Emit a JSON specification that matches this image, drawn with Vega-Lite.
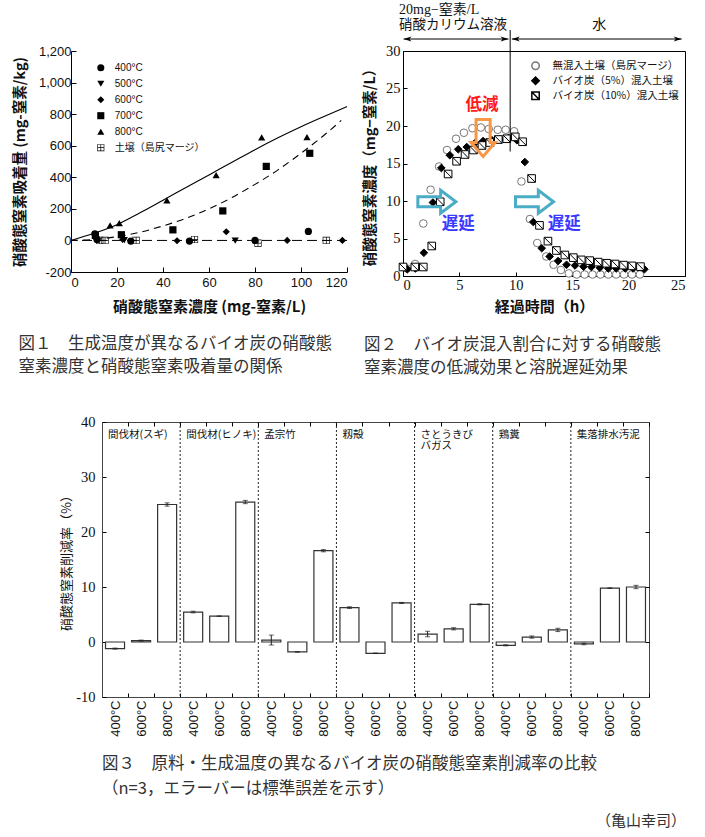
{
  "$schema": "https://vega.github.io/schema/vega-lite/v6.json",
  "background": "white",
  "padding": {"left": 11, "top": 2, "right": 0, "bottom": 0},
  "config": {
    "font": "Noto Sans CJK JP",
    "view": {"stroke": null},
    "axis": {"grid": false, "domainColor": "#000", "tickColor": "#000", "labelColor": "#111", "titleColor": "#111", "titleFont": "Noto Sans CJK JP"}
  },
  "title": {"text": "（亀山幸司）", "orient": "bottom", "anchor": "end", "offset": 16, "fontSize": 15, "fontWeight": "normal", "color": "#333", "font": "Noto Sans CJK JP"},
  "spacing": 36,
  "resolve": {"scale": {"shape": "independent", "fill": "independent", "stroke": "independent"}, "legend": {"shape": "independent", "fill": "independent", "stroke": "independent"}},
  "vconcat": [
    {
      "spacing": 0,
      "resolve": {"scale": {"shape": "independent", "fill": "independent", "stroke": "independent"}, "legend": {"shape": "independent", "fill": "independent", "stroke": "independent"}},
      "hconcat": [
        {
          "width": 1, "height": 1,
          "data": {"values": []},
          "mark": "text",
          "encoding": {"text": {"value": ""}}
        },
        {
          "spacing": 12,
          "resolve": {"scale": {"shape": "independent", "fill": "independent", "stroke": "independent"}, "legend": {"shape": "independent", "fill": "independent", "stroke": "independent"}},
          "hconcat": [
            {
              "width": 276, "height": 221,
              "title": {"text": ["図１　生成温度が異なるバイオ炭の硝酸態", "　　　窒素濃度と硝酸態窒素吸着量の関係"], "orient": "bottom", "anchor": "start", "frame": "group", "dx": -52.4, "offset": 22, "fontSize": 16.5, "lineHeight": 23, "fontWeight": "normal", "color": "#333", "font": "Noto Sans CJK JP"},
              "resolve": {"axis": {"x": "independent", "y": "independent"}},
              "layer": [
                {
                  "data": {"name": "f1pts"},
                  "mark": {"type": "point", "filled": true, "opacity": 1, "strokeWidth": 0, "size": 52},
                  "encoding": {
                    "x": {"field": "x", "type": "quantitative", "scale": {"domain": [0, 120], "nice": false},
                      "axis": {"orient": "bottom", "title": "硝酸態窒素濃度 (mg-窒素/L)", "values": [0, 20, 40, 60, 80, 100, 120], "tickSize": -5, "labelPadding": 9, "labelFont": "Liberation Sans", "labelFontSize": 13, "titleFontSize": 15, "titleFontWeight": "bold", "titlePadding": 10}},
                    "y": {"field": "y", "type": "quantitative", "scale": {"domain": [-200, 1200], "nice": false},
                      "axis": {"orient": "left", "title": "硝酸態窒素吸着量 (mg-窒素/kg)", "values": [-200, 0, 200, 400, 600, 800, 1000, 1200], "labelExpr": "replace(format(datum.value, ','), '−', '-')", "tickSize": -5, "labelPadding": 5, "labelFont": "Liberation Sans", "labelFontSize": 13, "titleFontSize": 14.5, "titleFontWeight": "bold", "titlePadding": 11}},
                    "shape": {"field": "s", "type": "nominal",
                      "scale": {"domain": ["400°C", "500°C", "600°C", "700°C", "800°C", "土壌（島尻マージ）"], "range": ["circle", "triangle-down", "diamond", "square", "triangle-up", "M-1,-1L1,-1L1,1L-1,1ZM-0.82,-0.82L-0.82,-0.1L-0.1,-0.1L-0.1,-0.82ZM0.1,-0.82L0.1,-0.1L0.82,-0.1L0.82,-0.82ZM-0.82,0.1L-0.82,0.82L-0.1,0.82L-0.1,0.1ZM0.1,0.1L0.1,0.82L0.82,0.82L0.82,0.1Z"]},
                      "legend": {"orient": "none", "legendX": 24.8, "legendY": 11.7, "title": null, "padding": 0, "symbolSize": 50, "labelFont": "Liberation Sans, Noto Sans CJK JP", "labelFontSize": 10, "labelColor": "#111", "labelOffset": 9, "rowPadding": 2, "symbolOpacity": 1,
                        "encode": {"symbols": {
                          "shape": {"condition": [
                            {"test": "datum.value === '400°C'", "value": "circle"},
                            {"test": "datum.value === '500°C'", "value": "triangle-down"},
                            {"test": "datum.value === '600°C'", "value": "diamond"},
                            {"test": "datum.value === '700°C'", "value": "M-2.6,-0.13L2.6,-0.13L2.6,0.13L-2.6,0.13ZM-1,-1L1,-1L1,1L-1,1Z"},
                            {"test": "datum.value === '800°C'", "value": "M-4,0.17L4,0.17L4,0.43L-4,0.43ZM0,-1.1L1.15,0.9L-1.15,0.9Z"}
                          ], "value": "M-1,-1L1,-1L1,1L-1,1ZM-0.82,-0.82L-0.82,-0.1L-0.1,-0.1L-0.1,-0.82ZM0.1,-0.82L0.1,-0.1L0.82,-0.1L0.82,-0.82ZM-0.82,0.1L-0.82,0.82L-0.1,0.82L-0.1,0.1ZM0.1,0.1L0.1,0.82L0.82,0.82L0.82,0.1Z"},
                          "fill": {"value": "#000"},
                          "strokeWidth": {"value": 0}
                        }}}},
                    "fill": {"field": "s", "type": "nominal", "scale": {"domain": ["400°C", "500°C", "600°C", "700°C", "800°C", "土壌（島尻マージ）"], "range": ["#000", "#000", "#000", "#000", "#000", "#000"]}, "legend": null}
                  }
                },
                {
                  "data": {"values": [{}]},
                  "mark": {"type": "rule", "strokeDash": [10, 5], "color": "#000", "strokeWidth": 1},
                  "encoding": {"y": {"datum": 0, "type": "quantitative", "scale": {"domain": [-200, 1200], "nice": false}, "axis": null}}
                },
                {
                  "data": {"name": "f1c800"},
                  "mark": {"type": "line", "color": "#000", "strokeWidth": 1.1, "interpolate": "monotone"},
                  "encoding": {
                    "x": {"field": "x", "type": "quantitative", "scale": {"domain": [0, 120], "nice": false}, "axis": null},
                    "y": {"field": "y", "type": "quantitative", "scale": {"domain": [-200, 1200], "nice": false}, "axis": null}
                  }
                },
                {
                  "data": {"name": "f1c700"},
                  "mark": {"type": "line", "color": "#000", "strokeWidth": 1.1, "strokeDash": [7, 5], "interpolate": "monotone"},
                  "encoding": {
                    "x": {"field": "x", "type": "quantitative", "scale": {"domain": [0, 120], "nice": false}, "axis": null},
                    "y": {"field": "y", "type": "quantitative", "scale": {"domain": [-200, 1200], "nice": false}, "axis": null}
                  }
                }
              ]
            },
            {
              "width": 282, "height": 225,
              "view": {"stroke": "#000", "strokeWidth": 1},
              "title": {"text": ["図２　バイオ炭混入割合に対する硝酸態", "　　　窒素濃度の低減効果と溶脱遅延効果"], "orient": "bottom", "anchor": "start", "frame": "group", "dx": -39, "offset": 22, "fontSize": 16.5, "lineHeight": 23, "fontWeight": "normal", "color": "#333", "font": "Noto Sans CJK JP"},
              "resolve": {"axis": {"x": "independent", "y": "independent"}},
              "layer": [
                {
                  "data": {"name": "f2"},
                  "mark": {"type": "point", "filled": true, "opacity": 1, "strokeWidth": 1, "size": 58},
                  "encoding": {
                    "x": {"field": "t", "type": "quantitative", "scale": {"domain": [0, 25], "nice": false},
                      "axis": {"orient": "bottom", "title": "経過時間（h）", "values": [0, 5, 10, 15, 20, 25], "tickSize": -4, "labelPadding": 6, "labelFont": "Liberation Serif", "labelFontSize": 14.5, "titleFontSize": 15, "titleFontWeight": "bold", "titlePadding": 8}},
                    "y": {"field": "c", "type": "quantitative", "scale": {"domain": [0, 30], "nice": false},
                      "axis": {"orient": "left", "title": "硝酸態窒素濃度（mg−窒素/L）", "values": [0, 5, 10, 15, 20, 25, 30], "tickSize": -4, "labelPadding": 7, "labelFont": "Liberation Serif", "labelFontSize": 14.5, "titleFontSize": 14.5, "titleFontWeight": "bold", "titlePadding": 8}},
                    "shape": {"field": "s", "type": "nominal",
                      "scale": {"domain": ["無混入土壌（島尻マージ）", "バイオ炭（5%）混入土壌", "バイオ炭（10%）混入土壌"], "range": ["circle", "diamond", "M-1,-1L1,-1L1,1L-1,1ZM-1,-1L1,1"]},
                      "legend": {"orient": "none", "legendX": 127.3, "legendY": 9.5, "title": null, "padding": 0, "symbolSize": 55, "labelFont": "Noto Sans CJK JP", "labelFontSize": 10.5, "labelColor": "#111", "labelOffset": 11.6, "rowPadding": 1, "symbolOpacity": 1,
                        "encode": {"symbols": {
                          "fill": {"condition": {"test": "datum.value === 'バイオ炭（5%）混入土壌'", "value": "#000"}, "value": "#fff"},
                          "stroke": {"condition": {"test": "datum.value === '無混入土壌（島尻マージ）'", "value": "#777"}, "value": "#000"},
                          "strokeWidth": {"value": 1}
                        }}}},
                    "fill": {"field": "s", "type": "nominal", "scale": {"domain": ["無混入土壌（島尻マージ）", "バイオ炭（5%）混入土壌", "バイオ炭（10%）混入土壌"], "range": ["#fff", "#000", "#fff"]}, "legend": null},
                    "stroke": {"field": "s", "type": "nominal", "scale": {"domain": ["無混入土壌（島尻マージ）", "バイオ炭（5%）混入土壌", "バイオ炭（10%）混入土壌"], "range": ["#777", "#000", "#000"]}, "legend": null}
                  }
                },
                {
                  "data": {"values": [{}]},
                  "mark": {"type": "rule", "color": "#000", "strokeWidth": 1},
                  "encoding": {"x": {"datum": 9.5, "type": "quantitative", "axis": null}, "y": {"datum": 16.6, "type": "quantitative", "axis": null}, "y2": {"datum": 32.8}}
                },
                {
                  "data": {"values": [{}]},
                  "mark": {"type": "rule", "color": "#000", "strokeWidth": 1},
                  "encoding": {"x": {"datum": 0.05, "type": "quantitative", "axis": null}, "x2": {"datum": 9.35}, "y": {"datum": 31.6, "type": "quantitative", "axis": null}}
                },
                {
                  "data": {"values": [{}]},
                  "mark": {"type": "rule", "color": "#000", "strokeWidth": 1},
                  "encoding": {"x": {"datum": 9.65, "type": "quantitative", "axis": null}, "x2": {"datum": 24.7}, "y": {"datum": 31.6, "type": "quantitative", "axis": null}}
                },
                {
                  "data": {"values": [{}]},
                  "mark": {"type": "point", "filled": true, "opacity": 1, "color": "#000", "size": 52, "shape": "M0,0L2.2,-0.7L1.6,0L2.2,0.7Z"},
                  "encoding": {"x": {"datum": 0.05, "type": "quantitative", "axis": null}, "y": {"datum": 31.6, "type": "quantitative", "axis": null}}
                },
                {
                  "data": {"values": [{}]},
                  "mark": {"type": "point", "filled": true, "opacity": 1, "color": "#000", "size": 52, "shape": "M0,0L-2.2,-0.7L-1.6,0L-2.2,0.7Z"},
                  "encoding": {"x": {"datum": 9.35, "type": "quantitative", "axis": null}, "y": {"datum": 31.6, "type": "quantitative", "axis": null}}
                },
                {
                  "data": {"values": [{}]},
                  "mark": {"type": "point", "filled": true, "opacity": 1, "color": "#000", "size": 52, "shape": "M0,0L2.2,-0.7L1.6,0L2.2,0.7Z"},
                  "encoding": {"x": {"datum": 9.65, "type": "quantitative", "axis": null}, "y": {"datum": 31.6, "type": "quantitative", "axis": null}}
                },
                {
                  "data": {"values": [{}]},
                  "mark": {"type": "point", "filled": true, "opacity": 1, "color": "#000", "size": 52, "shape": "M0,0L-2.2,-0.7L-1.6,0L-2.2,0.7Z"},
                  "encoding": {"x": {"datum": 24.7, "type": "quantitative", "axis": null}, "y": {"datum": 31.6, "type": "quantitative", "axis": null}}
                },
                {
                  "data": {"values": [{}]},
                  "mark": {"type": "text", "align": "left", "baseline": "middle", "font": "Liberation Serif, Noto Sans CJK JP", "fontSize": 14, "color": "#111"},
                  "encoding": {"x": {"datum": -0.35, "type": "quantitative", "axis": null}, "y": {"datum": 35.5, "type": "quantitative", "axis": null}, "text": {"value": "20mg−窒素/L"}}
                },
                {
                  "data": {"values": [{}]},
                  "mark": {"type": "text", "align": "left", "baseline": "middle", "font": "Noto Sans CJK JP", "fontSize": 13.5, "color": "#111"},
                  "encoding": {"x": {"datum": -0.35, "type": "quantitative", "axis": null}, "y": {"datum": 33.5, "type": "quantitative", "axis": null}, "text": {"value": "硝酸カリウム溶液"}}
                },
                {
                  "data": {"values": [{}]},
                  "mark": {"type": "text", "align": "center", "baseline": "middle", "font": "Noto Sans CJK JP", "fontSize": 14, "color": "#111"},
                  "encoding": {"x": {"datum": 17.4, "type": "quantitative", "axis": null}, "y": {"datum": 33.5, "type": "quantitative", "axis": null}, "text": {"value": "水"}}
                },
                {
                  "data": {"values": [{}]},
                  "mark": {"type": "point", "filled": false, "opacity": 1, "color": "#f79646", "strokeWidth": 3, "size": 1369, "shape": "M-0.38,-1L0.38,-1L0.38,0.24L0.65,0.24L0,1L-0.65,0.24L-0.38,0.24Z"},
                  "encoding": {"x": {"datum": 7.1, "type": "quantitative", "axis": null}, "y": {"datum": 18.4, "type": "quantitative", "axis": null}}
                },
                {
                  "data": {"values": [{}]},
                  "mark": {"type": "point", "filled": false, "opacity": 1, "color": "#4bacc6", "strokeWidth": 3, "size": 1444, "shape": "M-1,-0.26L0.2,-0.26L0.2,-0.6L1,0L0.2,0.6L0.2,0.26L-1,0.26Z"},
                  "encoding": {"x": {"datum": 3.0, "type": "quantitative", "axis": null}, "y": {"datum": 9.9, "type": "quantitative", "axis": null}}
                },
                {
                  "data": {"values": [{}]},
                  "mark": {"type": "point", "filled": false, "opacity": 1, "color": "#4bacc6", "strokeWidth": 3, "size": 1444, "shape": "M-1,-0.26L0.2,-0.26L0.2,-0.6L1,0L0.2,0.6L0.2,0.26L-1,0.26Z"},
                  "encoding": {"x": {"datum": 11.66, "type": "quantitative", "axis": null}, "y": {"datum": 9.9, "type": "quantitative", "axis": null}}
                },
                {
                  "data": {"values": [{}]},
                  "mark": {"type": "text", "align": "center", "baseline": "middle", "font": "Noto Sans CJK JP", "fontSize": 16.5, "fontWeight": "bold", "color": "#ff1a1a"},
                  "encoding": {"x": {"datum": 7.0, "type": "quantitative", "axis": null}, "y": {"datum": 22.8, "type": "quantitative", "axis": null}, "text": {"value": "低減"}}
                },
                {
                  "data": {"values": [{}]},
                  "mark": {"type": "text", "align": "center", "baseline": "middle", "font": "Noto Sans CJK JP", "fontSize": 16.5, "fontWeight": "bold", "color": "#3a3aff"},
                  "encoding": {"x": {"datum": 4.9, "type": "quantitative", "axis": null}, "y": {"datum": 7.0, "type": "quantitative", "axis": null}, "text": {"value": "遅延"}}
                },
                {
                  "data": {"values": [{}]},
                  "mark": {"type": "text", "align": "center", "baseline": "middle", "font": "Noto Sans CJK JP", "fontSize": 16.5, "fontWeight": "bold", "color": "#3a3aff"},
                  "encoding": {"x": {"datum": 14.3, "type": "quantitative", "axis": null}, "y": {"datum": 7.0, "type": "quantitative", "axis": null}, "text": {"value": "遅延"}}
                }
              ]
            }
          ]
        }
      ]
    },
    {
      "spacing": 0,
      "hconcat": [
        {
          "width": 49, "height": 1,
          "data": {"values": []},
          "mark": "text",
          "encoding": {"text": {"value": ""}}
        },
        {
          "width": 547, "height": 275,
          "view": {"stroke": "#444", "strokeWidth": 1},
          "title": {"text": ["図３　原料・生成温度の異なるバイオ炭の硝酸態窒素削減率の比較", "　　　　　　　（n=3，エラーバーは標準誤差を示す）"], "orient": "bottom", "anchor": "start", "frame": "group", "dx": 0, "offset": 20, "fontSize": 16.5, "lineHeight": 25, "fontWeight": "normal", "color": "#333", "font": "Noto Sans CJK JP"},
          "resolve": {"axis": {"x": "independent", "y": "independent"}},
          "layer": [
            {
              "data": {"name": "f3"},
              "mark": {"type": "bar", "fill": "#fff", "stroke": "#333", "strokeWidth": 1.2, "width": {"band": 0.73}},
              "encoding": {
                "x": {"field": "cat", "type": "nominal", "sort": null,
                  "scale": {"domain": ["1|400°C","1|600°C","1|800°C","2|400°C","2|600°C","2|800°C","3|400°C","3|600°C","3|800°C","4|400°C","4|600°C","4|800°C","5|400°C","5|600°C","5|800°C","6|400°C","6|600°C","6|800°C","7|400°C","7|600°C","7|800°C"], "paddingInner": 0, "paddingOuter": 0},
                  "axis": {"orient": "bottom", "title": null, "tickBand": "extent", "tickSize": -4, "labelAngle": -90, "labelExpr": "split(datum.label, '|')[1]", "labelFont": "Liberation Sans", "labelFontSize": 13, "labelPadding": 7, "domainColor": "#444"}},
                "y": {"field": "v", "type": "quantitative", "scale": {"domain": [-10, 40], "nice": false},
                  "axis": {"orient": "left", "title": "硝酸態窒素削減率（%）", "values": [-10, 0, 10, 20, 30, 40], "labelExpr": "replace(datum.label, '−', '-')", "tickSize": -4, "labelPadding": 11, "labelFont": "Liberation Serif", "labelFontSize": 14.5, "titleFontSize": 13, "titleFontWeight": "normal", "titlePadding": 2, "domainColor": "#444"}}
              }
            },
            {
              "data": {"name": "f3"},
              "mark": {"type": "errorbar", "ticks": {"size": 5}, "color": "#222", "thickness": 1},
              "encoding": {
                "x": {"field": "cat", "type": "nominal", "sort": null,
                  "scale": {"domain": ["1|400°C","1|600°C","1|800°C","2|400°C","2|600°C","2|800°C","3|400°C","3|600°C","3|800°C","4|400°C","4|600°C","4|800°C","5|400°C","5|600°C","5|800°C","6|400°C","6|600°C","6|800°C","7|400°C","7|600°C","7|800°C"], "paddingInner": 0, "paddingOuter": 0}, "axis": null},
                "y": {"field": "v", "type": "quantitative", "scale": {"domain": [-10, 40], "nice": false}, "axis": null},
                "yError": {"field": "se"}
              }
            },
            {
              "data": {"name": "f3"},
              "mark": {"type": "point", "opacity": 0},
              "encoding": {
                "x": {"field": "cat", "type": "nominal", "sort": null,
                  "scale": {"domain": ["1|400°C","1|600°C","1|800°C","2|400°C","2|600°C","2|800°C","3|400°C","3|600°C","3|800°C","4|400°C","4|600°C","4|800°C","5|400°C","5|600°C","5|800°C","6|400°C","6|600°C","6|800°C","7|400°C","7|600°C","7|800°C"], "paddingInner": 0, "paddingOuter": 0}, "axis": null},
                "y": {"field": "v", "type": "quantitative", "scale": {"domain": [-10, 40], "nice": false},
                  "axis": {"orient": "right", "labels": false, "title": null, "values": [0, 10, 20, 30], "tickSize": -4, "domain": false}}
              }
            },
            {
              "data": {"name": "f3sep"},
              "mark": {"type": "rule", "color": "#222", "strokeWidth": 1, "strokeDash": [2, 2]},
              "encoding": {
                "x": {"field": "cat", "type": "nominal", "sort": null, "bandPosition": 1,
                  "scale": {"domain": ["1|400°C","1|600°C","1|800°C","2|400°C","2|600°C","2|800°C","3|400°C","3|600°C","3|800°C","4|400°C","4|600°C","4|800°C","5|400°C","5|600°C","5|800°C","6|400°C","6|600°C","6|800°C","7|400°C","7|600°C","7|800°C"], "paddingInner": 0, "paddingOuter": 0},
                  "axis": {"orient": "top", "labels": false, "title": null, "tickBand": "extent", "tickSize": -4, "domain": false}}
              }
            },
            {
              "data": {"name": "f3lab"},
              "mark": {"type": "text", "align": "left", "baseline": "top", "dx": 6, "fontSize": 10.5, "lineBreak": "\n", "lineHeight": 11, "color": "#111", "font": "Noto Sans CJK JP"},
              "encoding": {
                "x": {"field": "cat", "type": "nominal", "sort": null, "bandPosition": 0,
                  "scale": {"domain": ["1|400°C","1|600°C","1|800°C","2|400°C","2|600°C","2|800°C","3|400°C","3|600°C","3|800°C","4|400°C","4|600°C","4|800°C","5|400°C","5|600°C","5|800°C","6|400°C","6|600°C","6|800°C","7|400°C","7|600°C","7|800°C"], "paddingInner": 0, "paddingOuter": 0}, "axis": null},
                "y": {"datum": 38.6, "type": "quantitative", "scale": {"domain": [-10, 40], "nice": false}, "axis": null},
                "text": {"field": "label"}
              }
            }
          ]
        }
      ]
    }
  ],
  "datasets": {
    "f1pts": [
      {"s": "400°C", "x": 10.4, "y": 42}, {"s": "400°C", "x": 11.3, "y": 6}, {"s": "400°C", "x": 26, "y": -4}, {"s": "400°C", "x": 51.5, "y": -4}, {"s": "400°C", "x": 80, "y": 0}, {"s": "400°C", "x": 103.2, "y": 57},
      {"s": "500°C", "x": 10.9, "y": 8}, {"s": "500°C", "x": 23.2, "y": 2}, {"s": "500°C", "x": 71.4, "y": -2},
      {"s": "600°C", "x": 10.6, "y": 17}, {"s": "600°C", "x": 22.5, "y": 6}, {"s": "600°C", "x": 46.1, "y": -2}, {"s": "600°C", "x": 67.5, "y": 55}, {"s": "600°C", "x": 94, "y": 0}, {"s": "600°C", "x": 118, "y": 0},
      {"s": "700°C", "x": 10.6, "y": 32}, {"s": "700°C", "x": 21.9, "y": 36}, {"s": "700°C", "x": 44.3, "y": 67}, {"s": "700°C", "x": 66, "y": 187}, {"s": "700°C", "x": 84.9, "y": 469}, {"s": "700°C", "x": 103.8, "y": 552},
      {"s": "800°C", "x": 17, "y": 95}, {"s": "800°C", "x": 21, "y": 109}, {"s": "800°C", "x": 41.7, "y": 253}, {"s": "800°C", "x": 63.1, "y": 413}, {"s": "800°C", "x": 82.9, "y": 653}, {"s": "800°C", "x": 102.6, "y": 655},
      {"s": "土壌（島尻マージ）", "x": 12.5, "y": 0}, {"s": "土壌（島尻マージ）", "x": 14.8, "y": 0}, {"s": "土壌（島尻マージ）", "x": 28.3, "y": 0}, {"s": "土壌（島尻マージ）", "x": 53.7, "y": 6}, {"s": "土壌（島尻マージ）", "x": 81.3, "y": -17}, {"s": "土壌（島尻マージ）", "x": 111, "y": 0}
    ],
    "f1c800": [
      {"x": 0, "y": 0}, {"x": 10, "y": 45}, {"x": 20, "y": 100}, {"x": 30, "y": 175}, {"x": 40, "y": 255}, {"x": 50, "y": 335}, {"x": 60, "y": 415}, {"x": 70, "y": 495}, {"x": 80, "y": 575}, {"x": 90, "y": 650}, {"x": 100, "y": 720}, {"x": 110, "y": 785}, {"x": 120, "y": 848}
    ],
    "f1c700": [
      {"x": 0, "y": 0}, {"x": 10, "y": 6}, {"x": 20, "y": 24}, {"x": 30, "y": 52}, {"x": 40, "y": 92}, {"x": 50, "y": 140}, {"x": 60, "y": 200}, {"x": 70, "y": 272}, {"x": 80, "y": 355}, {"x": 90, "y": 447}, {"x": 100, "y": 552}, {"x": 110, "y": 666}, {"x": 117.5, "y": 760}
    ],
    "f2": [
      {"s": "無混入土壌（島尻マージ）", "t": 0.35, "c": 1.0}, {"s": "無混入土壌（島尻マージ）", "t": 1.07, "c": 1.6}, {"s": "無混入土壌（島尻マージ）", "t": 1.8, "c": 7.0}, {"s": "無混入土壌（島尻マージ）", "t": 2.45, "c": 11.5}, {"s": "無混入土壌（島尻マージ）", "t": 3.2, "c": 14.6}, {"s": "無混入土壌（島尻マージ）", "t": 3.9, "c": 16.8}, {"s": "無混入土壌（島尻マージ）", "t": 4.7, "c": 18.3}, {"s": "無混入土壌（島尻マージ）", "t": 5.4, "c": 19.1}, {"s": "無混入土壌（島尻マージ）", "t": 6.15, "c": 19.7}, {"s": "無混入土壌（島尻マージ）", "t": 6.9, "c": 19.8}, {"s": "無混入土壌（島尻マージ）", "t": 7.6, "c": 19.6}, {"s": "無混入土壌（島尻マージ）", "t": 8.4, "c": 19.5}, {"s": "無混入土壌（島尻マージ）", "t": 9.1, "c": 19.5}, {"s": "無混入土壌（島尻マージ）", "t": 9.85, "c": 19.3}, {"s": "無混入土壌（島尻マージ）", "t": 10.5, "c": 12.6}, {"s": "無混入土壌（島尻マージ）", "t": 11.25, "c": 7.6}, {"s": "無混入土壌（島尻マージ）", "t": 11.9, "c": 4.4}, {"s": "無混入土壌（島尻マージ）", "t": 12.7, "c": 2.6}, {"s": "無混入土壌（島尻マージ）", "t": 13.35, "c": 1.5}, {"s": "無混入土壌（島尻マージ）", "t": 14.0, "c": 0.8}, {"s": "無混入土壌（島尻マージ）", "t": 14.7, "c": 0.35}, {"s": "無混入土壌（島尻マージ）", "t": 15.4, "c": 0.2}, {"s": "無混入土壌（島尻マージ）", "t": 16.1, "c": 0.2}, {"s": "無混入土壌（島尻マージ）", "t": 16.8, "c": 0.2}, {"s": "無混入土壌（島尻マージ）", "t": 17.5, "c": 0.2}, {"s": "無混入土壌（島尻マージ）", "t": 18.2, "c": 0.2}, {"s": "無混入土壌（島尻マージ）", "t": 18.9, "c": 0.2}, {"s": "無混入土壌（島尻マージ）", "t": 19.6, "c": 0.2}, {"s": "無混入土壌（島尻マージ）", "t": 20.3, "c": 0.2}, {"s": "無混入土壌（島尻マージ）", "t": 21.0, "c": 0.2},
      {"s": "バイオ炭（5%）混入土壌", "t": 0.38, "c": 0.9}, {"s": "バイオ炭（5%）混入土壌", "t": 1.1, "c": 1.0}, {"s": "バイオ炭（5%）混入土壌", "t": 1.85, "c": 3.1}, {"s": "バイオ炭（5%）混入土壌", "t": 2.65, "c": 9.8}, {"s": "バイオ炭（5%）混入土壌", "t": 3.4, "c": 14.4}, {"s": "バイオ炭（5%）混入土壌", "t": 4.15, "c": 16.1}, {"s": "バイオ炭（5%）混入土壌", "t": 4.9, "c": 16.9}, {"s": "バイオ炭（5%）混入土壌", "t": 5.65, "c": 17.2}, {"s": "バイオ炭（5%）混入土壌", "t": 6.35, "c": 17.7}, {"s": "バイオ炭（5%）混入土壌", "t": 7.1, "c": 18.0}, {"s": "バイオ炭（5%）混入土壌", "t": 7.9, "c": 18.1}, {"s": "バイオ炭（5%）混入土壌", "t": 8.6, "c": 18.2}, {"s": "バイオ炭（5%）混入土壌", "t": 9.35, "c": 18.4}, {"s": "バイオ炭（5%）混入土壌", "t": 10.1, "c": 18.1}, {"s": "バイオ炭（5%）混入土壌", "t": 10.8, "c": 15.2}, {"s": "バイオ炭（5%）混入土壌", "t": 11.55, "c": 7.2}, {"s": "バイオ炭（5%）混入土壌", "t": 12.3, "c": 3.7}, {"s": "バイオ炭（5%）混入土壌", "t": 13.0, "c": 2.6}, {"s": "バイオ炭（5%）混入土壌", "t": 13.75, "c": 2.0}, {"s": "バイオ炭（5%）混入土壌", "t": 14.5, "c": 1.5}, {"s": "バイオ炭（5%）混入土壌", "t": 15.25, "c": 1.4}, {"s": "バイオ炭（5%）混入土壌", "t": 16.0, "c": 1.25}, {"s": "バイオ炭（5%）混入土壌", "t": 16.7, "c": 1.2}, {"s": "バイオ炭（5%）混入土壌", "t": 17.45, "c": 1.1}, {"s": "バイオ炭（5%）混入土壌", "t": 18.2, "c": 1.0}, {"s": "バイオ炭（5%）混入土壌", "t": 18.9, "c": 1.0}, {"s": "バイオ炭（5%）混入土壌", "t": 19.7, "c": 1.0}, {"s": "バイオ炭（5%）混入土壌", "t": 20.4, "c": 1.0}, {"s": "バイオ炭（5%）混入土壌", "t": 21.4, "c": 0.9},
      {"s": "バイオ炭（10%）混入土壌", "t": 0.0, "c": 1.2}, {"s": "バイオ炭（10%）混入土壌", "t": 1.05, "c": 1.2}, {"s": "バイオ炭（10%）混入土壌", "t": 1.8, "c": 1.2}, {"s": "バイオ炭（10%）混入土壌", "t": 2.55, "c": 4.0}, {"s": "バイオ炭（10%）混入土壌", "t": 3.3, "c": 9.9}, {"s": "バイオ炭（10%）混入土壌", "t": 4.0, "c": 13.6}, {"s": "バイオ炭（10%）混入土壌", "t": 4.75, "c": 15.3}, {"s": "バイオ炭（10%）混入土壌", "t": 5.5, "c": 16.2}, {"s": "バイオ炭（10%）混入土壌", "t": 6.25, "c": 16.8}, {"s": "バイオ炭（10%）混入土壌", "t": 7.0, "c": 17.4}, {"s": "バイオ炭（10%）混入土壌", "t": 7.7, "c": 17.8}, {"s": "バイオ炭（10%）混入土壌", "t": 8.45, "c": 18.2}, {"s": "バイオ炭（10%）混入土壌", "t": 9.2, "c": 18.3}, {"s": "バイオ炭（10%）混入土壌", "t": 9.95, "c": 18.55}, {"s": "バイオ炭（10%）混入土壌", "t": 10.6, "c": 17.9}, {"s": "バイオ炭（10%）混入土壌", "t": 11.4, "c": 13.0}, {"s": "バイオ炭（10%）混入土壌", "t": 12.1, "c": 6.75}, {"s": "バイオ炭（10%）混入土壌", "t": 12.85, "c": 4.65}, {"s": "バイオ炭（10%）混入土壌", "t": 13.6, "c": 3.4}, {"s": "バイオ炭（10%）混入土壌", "t": 14.35, "c": 2.8}, {"s": "バイオ炭（10%）混入土壌", "t": 15.1, "c": 2.45}, {"s": "バイオ炭（10%）混入土壌", "t": 15.8, "c": 2.15}, {"s": "バイオ炭（10%）混入土壌", "t": 16.55, "c": 2.05}, {"s": "バイオ炭（10%）混入土壌", "t": 17.3, "c": 1.85}, {"s": "バイオ炭（10%）混入土壌", "t": 18.05, "c": 1.7}, {"s": "バイオ炭（10%）混入土壌", "t": 18.8, "c": 1.6}, {"s": "バイオ炭（10%）混入土壌", "t": 19.55, "c": 1.45}, {"s": "バイオ炭（10%）混入土壌", "t": 20.3, "c": 1.35}, {"s": "バイオ炭（10%）混入土壌", "t": 21.05, "c": 1.25}
    ],
    "f3": [
      {"cat": "1|400°C", "v": -1.2, "se": 0.1}, {"cat": "1|600°C", "v": 0.25, "se": 0.1}, {"cat": "1|800°C", "v": 25.0, "se": 0.3},
      {"cat": "2|400°C", "v": 5.45, "se": 0.15}, {"cat": "2|600°C", "v": 4.7, "se": 0.05}, {"cat": "2|800°C", "v": 25.45, "se": 0.3},
      {"cat": "3|400°C", "v": 0.35, "se": 0.9}, {"cat": "3|600°C", "v": -1.8, "se": 0.05}, {"cat": "3|800°C", "v": 16.6, "se": 0.2},
      {"cat": "4|400°C", "v": 6.25, "se": 0.15}, {"cat": "4|600°C", "v": -2.05, "se": 0.05}, {"cat": "4|800°C", "v": 7.1, "se": 0.1},
      {"cat": "5|400°C", "v": 1.45, "se": 0.5}, {"cat": "5|600°C", "v": 2.4, "se": 0.2}, {"cat": "5|800°C", "v": 6.85, "se": 0.1},
      {"cat": "6|400°C", "v": -0.6, "se": 0.1}, {"cat": "6|600°C", "v": 0.9, "se": 0.2}, {"cat": "6|800°C", "v": 2.2, "se": 0.3},
      {"cat": "7|400°C", "v": -0.35, "se": 0.15}, {"cat": "7|600°C", "v": 9.8, "se": 0.05}, {"cat": "7|800°C", "v": 10.0, "se": 0.3}
    ],
    "f3lab": [
      {"cat": "1|400°C", "label": "間伐材(スギ)"}, {"cat": "2|400°C", "label": "間伐材(ヒノキ)"}, {"cat": "3|400°C", "label": "孟宗竹"}, {"cat": "4|400°C", "label": "籾殻"}, {"cat": "5|400°C", "label": "さとうきび\nバガス"}, {"cat": "6|400°C", "label": "鶏糞"}, {"cat": "7|400°C", "label": "集落排水汚泥"}
    ],
    "f3sep": [
      {"cat": "1|800°C"}, {"cat": "2|800°C"}, {"cat": "3|800°C"}, {"cat": "4|800°C"}, {"cat": "5|800°C"}, {"cat": "6|800°C"}
    ]
  }
}
